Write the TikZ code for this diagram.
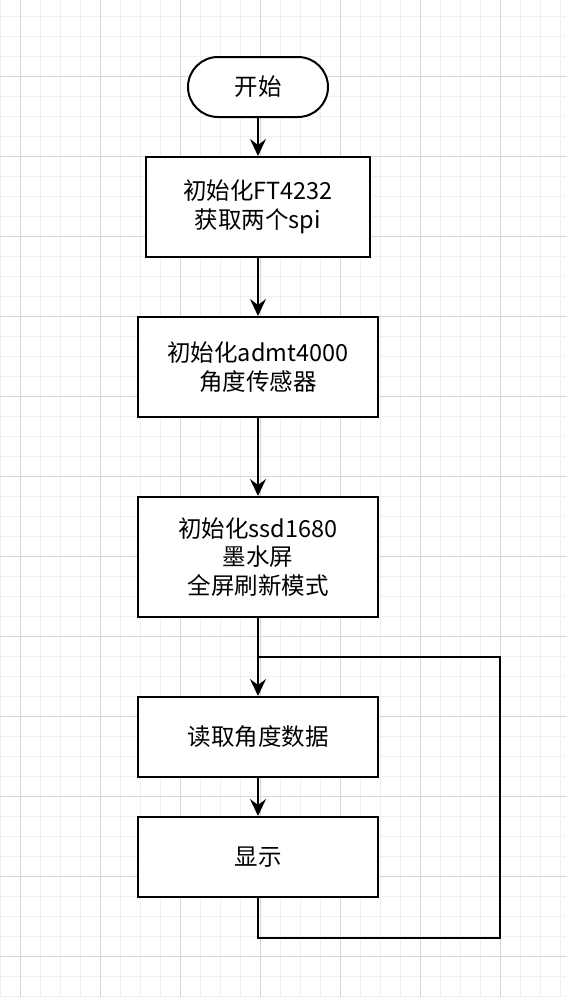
\documentclass[tikz,border=0pt]{standalone}
\usepackage{fontspec}
\setmainfont{Noto Sans CJK SC}
\usepackage{tikz}
\usetikzlibrary{arrows.meta}
\definecolor{gridminor}{HTML}{F0F0F0}
\definecolor{gridmajor}{HTML}{D6D6D6}
\tikzset{
  stepbox/.style={draw,line width=2pt,minimum width=240pt,minimum height=100pt,align=center,font=\fontsize{23.5}{28.5}\selectfont},
  startbox/.style={draw,line width=2pt,rounded corners=30pt,minimum width=140pt,minimum height=60pt,font=\fontsize{23.5}{28.5}\selectfont},
  flow/.style={line width=2pt,-{Stealth[length=17pt,width=16pt,inset=6pt]}}
}
\begin{document}
\begin{tikzpicture}[x=1pt,y=-1pt]
\useasboundingbox (0,0) rectangle (566,997);
\fill[white] (0,0) rectangle (566,997);
\foreach \x in {0,20,...,560} {\draw[gridminor,line width=1pt] (\x,0)--++(0,997);}
\foreach \y in {16,36,...,996} {\draw[gridminor,line width=1pt] (0,\y)--++(566,0);}
\foreach \x in {20,100,...,500} {\draw[gridmajor,line width=1pt] (\x,0)--++(0,997);}
\foreach \y in {76,156,...,956} {\draw[gridmajor,line width=1pt] (0,\y)--++(566,0);}
\node[startbox,fill=white](start)at(258,87){开始};
\node[stepbox,fill=white,minimum width=224pt](ft)at(258,207){初始化FT4232\\获取两个spi};
\node[stepbox,fill=white](admt)at(258,367){初始化admt4000\\角度传感器};
\node[stepbox,fill=white,minimum height=120pt](ssd)at(258,557){初始化ssd1680\\墨水屏\\全屏刷新模式};
\node[stepbox,fill=white,minimum height=80pt](read)at(258,737){读取角度数据};
\node[stepbox,fill=white,minimum height=80pt](show)at(258,857){显示};
\coordinate(join)at(258,657);
\draw[flow](start)--(ft);
\draw[flow](ft)--(admt);
\draw[flow](admt)--(ssd);
\draw[flow](ssd)--(read);
\draw[flow](read)--(show);
\draw[line width=2pt](show.south)--++(0,40)-|(500,657)--(join);
\end{tikzpicture}
\end{document}
